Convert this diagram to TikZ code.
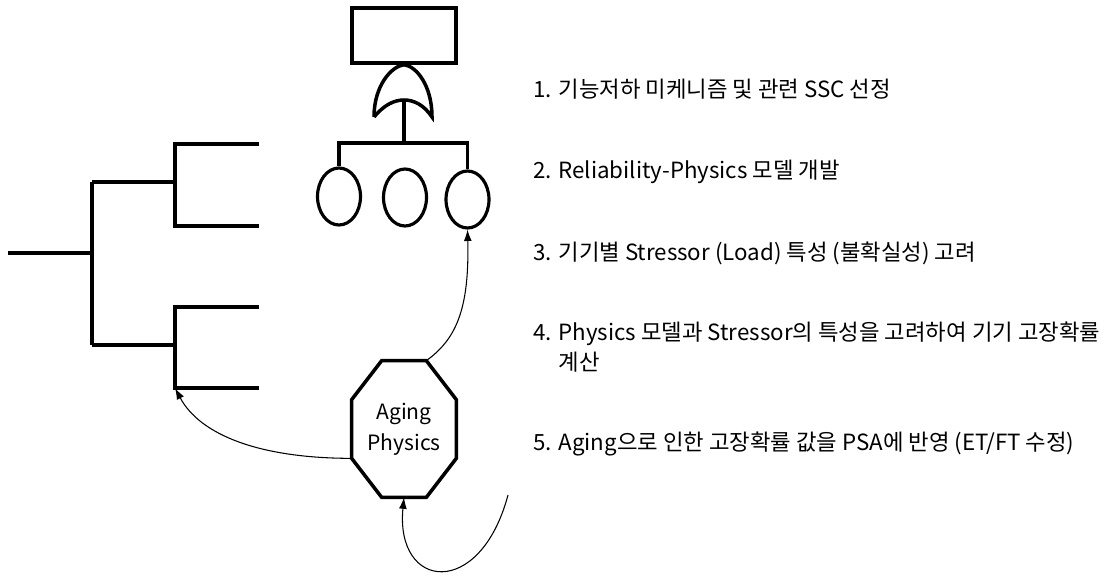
\documentclass[tikz,border=0pt]{standalone}
\usepackage{fontspec}
\newfontfamily\kfont{Noto Sans CJK KR}
\usepackage{tikz}
\usetikzlibrary{arrows.meta, shapes, shapes.geometric, positioning, calc}

\begin{document}
\begin{tikzpicture}[x=0.02cm, y=-0.02cm,
    thickline/.style={line width=2pt, line join=miter},
    eventbox/.style={draw, line width=2pt, minimum width=2.08cm, minimum height=1.1cm, inner sep=0pt},
    basicev/.style={ellipse, draw, line width=1.8pt, minimum width=0.86cm, minimum height=1.14cm, inner sep=0pt},
    flow/.style={line width=0.6pt, -{Latex[length=6.5pt,width=4.5pt]}},
    stepnote/.style={anchor=base west, inner sep=0pt, align=left, font=\kfont\fontsize{12.7}{17}\selectfont}]
    \useasboundingbox (0,0) rectangle (1109,575);

    % event tree
    \coordinate (root) at (8,253);
    \coordinate (trunk) at (92,253);
    \draw[thickline] (root) -- (trunk);
    \draw[thickline] (92,182) -- (92,345);
    \foreach \y/\a/\b/\n in {182/144/226/up, 345/307/388/low}{
        \draw[thickline] (92,\y) -- (175,\y);
        \draw[thickline] (259,\a) -- (175,\a) -- (175,\b) -- (259,\b);
        \coordinate (leaf\n) at (175,\b);
    }

    % fault tree
    \node[eventbox] (top) at (404,35.5) {};
    \coordinate (gl) at (374,117);
    \coordinate (gr) at (432,117);
    \coordinate (gin) at (404,100);
    \coordinate (bar) at (404,143);
    \draw[thickline] (gl) .. controls (374,85) and (392,66) .. (top.south)
        .. controls (416,66) and (432,85) .. (gr)
        .. controls (424,105) and (414,100) .. (gin)
        .. controls (394,100) and (384,105) .. (gl);
    \node[basicev] (ev1) at (339,196.5) {};
    \node[basicev] (ev2) at (405,197.5) {};
    \node[basicev] (ev3) at (467.5,199.5) {};
    \draw[thickline] (gin) -- (bar);
    \draw[thickline] (ev1.north) -- (ev1.north |- bar) -- (ev3.north |- bar) -- (ev3.north);

    % aging physics
    \node[minimum width=2.08cm, minimum height=2.72cm, align=center,
        font=\kfont\fontsize{12}{17.6}\selectfont] (aging) at (404,429) {Aging\\Physics};
    \draw[thickline] ($(aging.north west)+(30,0)$) -- ($(aging.north east)+(-30,0)$)
        -- ($(aging.north east)+(0,39)$) -- ($(aging.south east)+(0,-39)$)
        -- ($(aging.south east)+(-30,0)$) -- ($(aging.south west)+(30,0)$)
        -- ($(aging.south west)+(0,-39)$) -- ($(aging.north west)+(0,39)$) -- cycle;
    \coordinate (agNE) at ($(aging.north east)+(-30,0)$);
    \coordinate (agWS) at ($(aging.south west)+(0,-39)$);
    \coordinate (loose) at (508,495);

    \draw[flow] (agNE) .. controls +(29,-21) and +(2,81) .. (ev3.south);
    \draw[flow] (agWS) .. controls +(-92,0) and +(25,47) .. (leaflow);
    \draw[flow] (loose) .. controls +(-28,105) and +(-9,93) .. (aging.south);

    % steps
    \node[stepnote] (s1) at (533,97) {1. 기능저하 미케니즘 및 관련 SSC 선정};
    \node[stepnote] (s2) at (533,178) {2. Reliability-Physics 모델 개발};
    \node[stepnote] (s3) at (533,260) {3. 기기별 Stressor (Load) 특성 (불확실성) 고려};
    \node[stepnote] (s4) at (533,370) {4. Physics 모델과 Stressor의 특성을 고려하여 기기 고장확률\\\phantom{4. }계산};
    \node[stepnote] (s5) at (533,450) {5. Aging으로 인한 고장확률 값을 PSA에 반영 (ET/FT 수정)};
\end{tikzpicture}
\end{document}
